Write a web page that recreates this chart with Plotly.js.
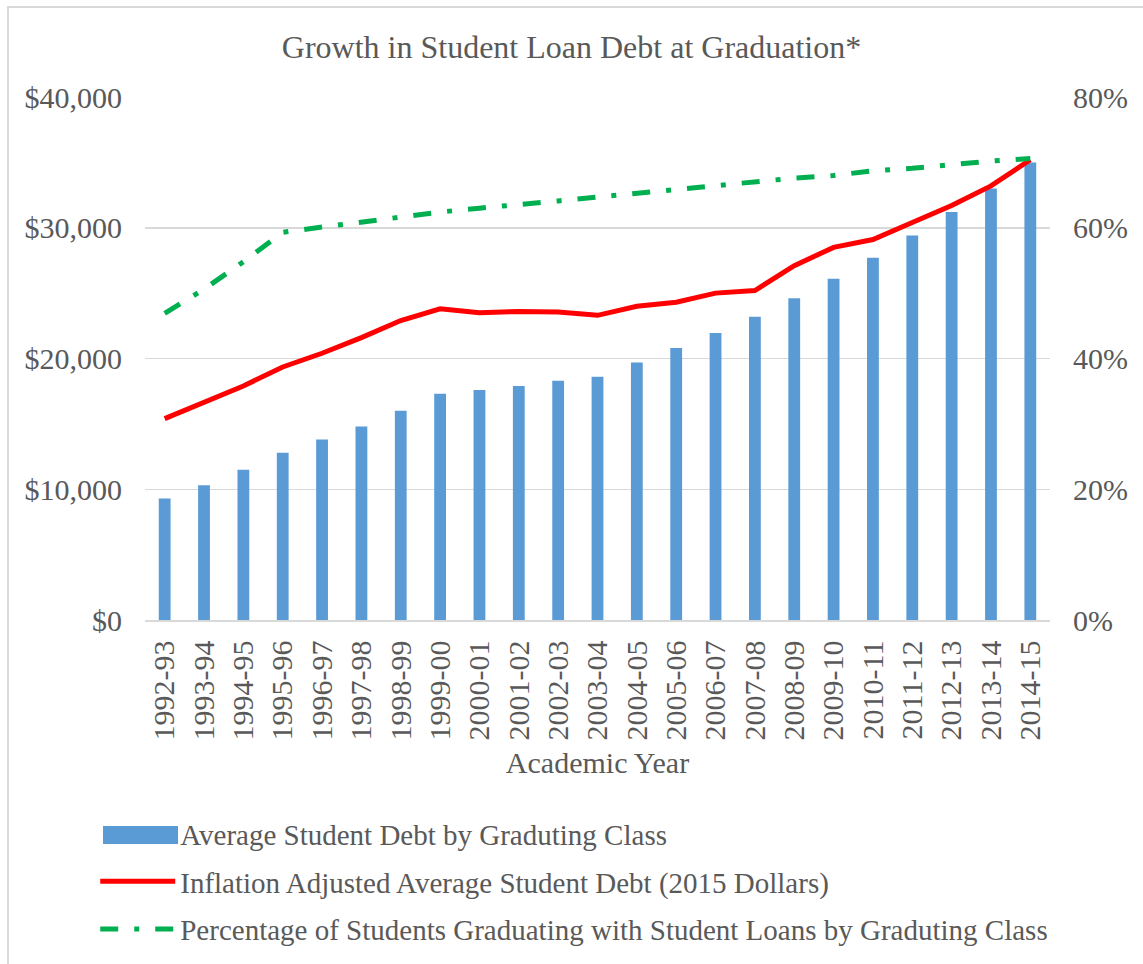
<!DOCTYPE html>
<html>
<head>
<meta charset="utf-8">
<script src="https://cdn.plot.ly/plotly-3.0.1.min.js"></script>
<style>
html,body{margin:0;padding:0;background:#fff;overflow:hidden;}
#wrap{position:relative;width:1143px;height:964px;overflow:hidden;}
#frame{position:absolute;left:7px;top:6px;width:1200px;height:1000px;border-top:2px solid #d9d9d9;border-left:2px solid #d9d9d9;box-sizing:border-box;pointer-events:none;}
#chart{position:absolute;left:0;top:0;width:1143px;height:964px;}
</style>
</head>
<body>
<div id="wrap"><div id="chart"></div><div id="frame"></div></div>
<script>
const years = ["1992-93","1993-94","1994-95","1995-96","1996-97","1997-98","1998-99","1999-00","2000-01","2001-02","2002-03","2003-04","2004-05","2005-06","2006-07","2007-08","2008-09","2009-10","2010-11","2011-12","2012-13","2013-14","2014-15"];
const avgDebt = [9300,10300,11500,12800,13800,14800,16000,17300,17600,17900,18300,18600,19700,20800,21950,23200,24600,26100,27700,29400,31200,33000,35000];
const inflAdjDebt = [15400,16700,17900,19350,20400,21600,22900,23800,23500,23600,23550,23300,24000,24300,25000,25200,27100,28500,29100,30400,31700,33200,35200];
const pctWithLoans = [46.9,50.6,54.8,59.3,60.1,60.9,61.6,62.4,63.0,63.5,64.1,64.7,65.3,65.9,66.5,67.1,67.6,68.0,68.7,69.1,69.7,70.2,70.6];

const seriesNames = ["Average Student Debt by Graduting Class","Inflation Adjusted Average Student Debt (2015 Dollars)","Percentage of Students Graduating with Student Loans by Graduting Class"];

const FONT = "Liberation Serif, DejaVu Serif, serif";
const TXT = "#595959";
const BAR_COLOR = "#5b9bd5";

const traces = [
  {type:"bar", x:years, y:avgDebt, name:seriesNames[0], marker:{color:BAR_COLOR}, yaxis:"y", legendgroup:"a"},
  {type:"scatter", mode:"lines", x:years, y:inflAdjDebt, name:seriesNames[1], line:{color:"#ff0000", width:5}, yaxis:"y", legendgroup:"b"},
  {type:"scatter", mode:"lines", x:years, y:pctWithLoans, name:seriesNames[2], line:{color:"#00b050", width:5, dash:"18px,16px,5px,16px"}, yaxis:"y2", legendgroup:"c"}
];

const layout = {
  width:1143, height:964,
  margin:{l:145, r:93, t:97, b:344, autoexpand:false},
  paper_bgcolor:"#fff", plot_bgcolor:"#fff",
  font:{family:FONT, color:TXT, size:30},
  title:{text:"Growth in Student Loan Debt at Graduation*", x:0.5, xanchor:"center", y:0.951, yanchor:"middle", font:{family:FONT, size:32, color:TXT}},
  bargap:0.7,
  showlegend:true,
  legend:{x:-0.055, xanchor:"left", y:-0.36, yanchor:"top", orientation:"v", font:{family:FONT, size:29, color:TXT}, itemwidth:75, tracegroupgap:7, bgcolor:"rgba(0,0,0,0)"},
  shapes:[
    {type:"rect", xref:"paper", yref:"paper", x0:-0.0464, x1:0.0365, y0:-0.4283, y1:-0.3939, fillcolor:BAR_COLOR, line:{width:0}, layer:"above"}
  ],
  xaxis:{type:"category", tickangle:-90, tickfont:{family:FONT, size:30, color:TXT}, showgrid:false, showline:true, linecolor:"#d9d9d9", linewidth:1.5, ticks:"", ticklabelstandoff:7,
    title:{text:"Academic Year", font:{family:FONT, size:30, color:TXT}, standoff:12}},
  yaxis:{range:[0,40000], tickvals:[0,10000,20000,30000,40000], ticktext:["$0","$10,000","$20,000","$30,000","$40,000"], tickfont:{family:FONT, size:30, color:TXT}, showgrid:true, gridcolor:"#d9d9d9", gridwidth:1.5, zeroline:false, showline:false, ticks:"", ticklabelstandoff:22, fixedrange:true},
  yaxis2:{overlaying:"y", side:"right", range:[0,80], tickvals:[0,20,40,60,80], ticktext:["0%","20%","40%","60%","80%"], tickfont:{family:FONT, size:30, color:TXT}, showgrid:false, zeroline:false, showline:false, ticks:"", ticklabelstandoff:22}
};

Plotly.newPlot("chart", traces, layout, {displayModeBar:false, staticPlot:true});
</script>
</body>
</html>
